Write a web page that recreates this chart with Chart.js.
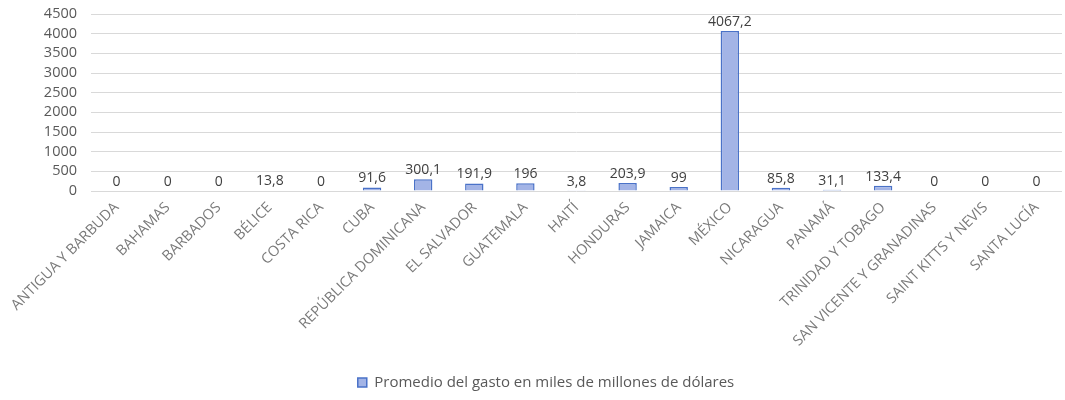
<!DOCTYPE html>
<html>
<head>
<meta charset="utf-8">
<script src="https://cdn.jsdelivr.net/npm/chart.js@4"></script>
<style>
  html, body { margin: 0; padding: 0; background: #fff; }
  #wrap { width: 1065px; height: 400px; }
</style>
</head>
<body>
<div id="wrap"><canvas id="c"></canvas></div>
<script>
const categories = ["ANTIGUA Y BARBUDA","BAHAMAS","BARBADOS","BÉLICE","COSTA RICA","CUBA","REPÚBLICA DOMINICANA","EL SALVADOR","GUATEMALA","HAITÍ","HONDURAS","JAMAICA","MÉXICO","NICARAGUA","PANAMÁ","TRINIDAD Y TOBAGO","SAN VICENTE Y GRANADINAS","SAINT KITTS Y NEVIS","SANTA LUCÍA"];
const gasto = [0,0,0,13.8,0,91.6,300.1,191.9,196,3.8,203.9,99,4067.2,85.8,31.1,133.4,0,0,0];
const seriesName = "Promedio del gasto en miles de millones de dólares";
const yTicks = [0,500,1000,1500,2000,2500,3000,3500,4000,4500];

const fontFamily = "'Open Sans', 'Liberation Sans', sans-serif";

const valueLabels = {
  id: 'valueLabels',
  afterDatasetsDraw(chart) {
    const ctx = chart.ctx;
    ctx.save();
    ctx.font = "14px " + fontFamily;
    ctx.fillStyle = "#404040";
    ctx.textAlign = "center";
    ctx.textBaseline = "bottom";
    const meta = chart.getDatasetMeta(0);
    meta.data.forEach((bar, i) => {
      const v = chart.data.datasets[0].data[i];
      ctx.fillText(String(v).replace('.', ','), bar.x, bar.y - 2);
    });
    ctx.restore();
  }
};

new Chart(document.getElementById('c'), {
  type: 'bar',
  data: {
    labels: categories,
    datasets: [{
      label: seriesName,
      data: gasto,
      backgroundColor: '#a3b4e6',
      borderColor: '#4a72c8',
      borderWidth: 1.5,
      categoryPercentage: 1,
      barPercentage: 0.36
    }]
  },
  options: {
    responsive: true,
    maintainAspectRatio: false,
    animation: false,
    layout: { padding: { top: 14, right: 3, left: 30, bottom: 0 } },
    plugins: {
      legend: {
        position: 'bottom',
        labels: {
          color: '#595959',
          font: { size: 15, family: fontFamily },
          boxWidth: 9,
          boxHeight: 9,
          padding: 10
        }
      },
      tooltip: { enabled: false }
    },
    scales: {
      x: {
        grid: { display: false },
        border: { display: false },
        ticks: {
          color: '#7a7a7a',
          font: { size: 14.5, family: fontFamily },
          maxRotation: 45,
          minRotation: 45,
          autoSkip: false,
          padding: 0
        },
        afterFit(scale) { scale.height = 174; }
      },
      y: {
        min: 0,
        max: 4500,
        grid: { color: '#d9d9d9', lineWidth: 1, drawTicks: false },
        border: { display: false },
        afterBuildTicks(scale) { scale.ticks = yTicks.map(v => ({ value: v })); },
        afterFit(scale) { scale.width = 61; scale.paddingTop = 0; scale.paddingBottom = 0; },
        ticks: {
          color: '#595959',
          font: { size: 14.5, family: fontFamily },
          autoSkip: false,
          padding: 14,
          callback: (v) => String(v)
        }
      }
    }
  },
  plugins: [valueLabels]
});
</script>
</body>
</html>
